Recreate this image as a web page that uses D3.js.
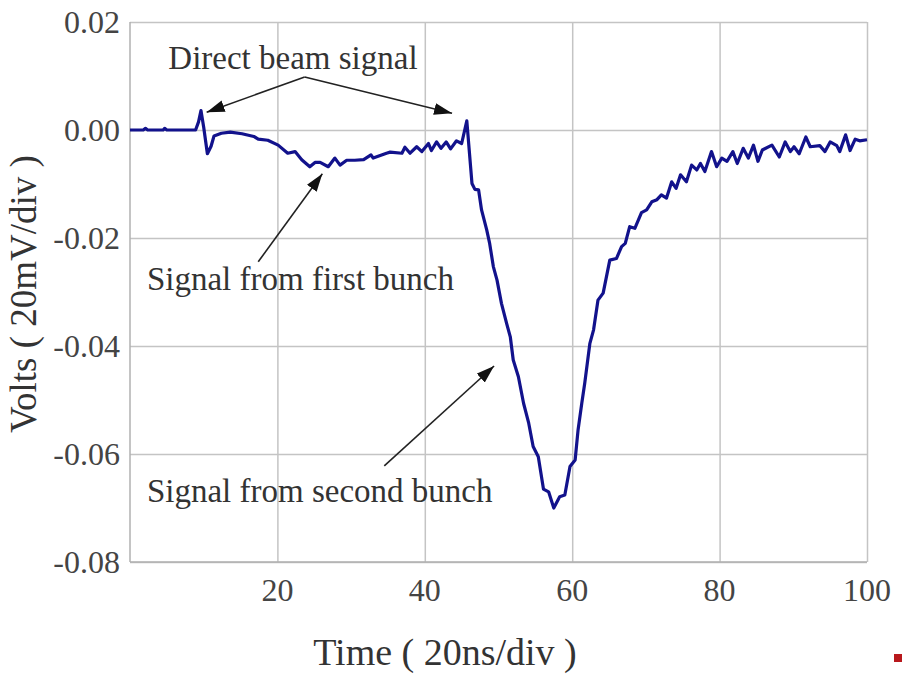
<!DOCTYPE html>
<html>
<head>
<meta charset="utf-8">
<script src="https://cdn.jsdelivr.net/npm/d3@7"></script>
<style>
  body { margin: 0; background: #fff; }
  svg text { font-family: "Liberation Serif", "DejaVu Serif", serif; }
</style>
</head>
<body>
<div id="chart"></div>
<script>
// time axis values (20ns/div units)
var times = [0, 1.8, 2.1, 2.4, 4.5, 4.7, 5.0, 8.9, 9.3, 9.63, 10.0, 10.5, 11.0, 11.4,
  12.4, 13.6, 15.2, 16.8, 17.4, 18.7, 20.1, 21.4, 22.4, 23.3, 24.4, 25.1, 25.8, 26.9,
  27.8, 28.5, 29.4, 30.5, 31.7, 32.7, 33.0, 34.8, 35.3, 36.9, 37.3, 38.0, 38.9, 39.6,
  40.5, 40.9, 41.6, 42.2, 42.9, 43.5, 44.3, 45.0, 45.7, 46.4, 46.8, 47.3, 47.7, 48.4,
  48.8, 49.3, 49.8, 50.4, 51.1, 51.6, 52.0, 52.7, 53.4, 54.1, 54.7, 55.4, 56.1, 56.8,
  57.5, 58.3, 59.0, 59.7, 60.4, 60.8, 61.3, 61.7, 62.4, 62.9, 63.5, 64.2, 65.1, 66.0,
  66.7, 67.2, 67.8, 68.5, 69.4, 70.1, 70.8, 71.5, 72.1, 72.8, 73.5, 74.1, 74.7, 75.5,
  76.2, 76.9, 77.4, 78.0, 78.9, 79.6, 80.3, 81.0, 81.8, 82.4, 83.2, 83.9, 84.6, 85.2,
  85.8, 87.1, 88.1, 88.9, 89.6, 90.1, 90.8, 91.7, 92.3, 93.6, 94.3, 95.0, 95.9, 96.3,
  97.1, 97.7, 98.4, 99.0, 100];

// measured volts at each time
var volts = [0, 0, 0.0003, 0, 0, 0.0003, 0, 0, 0.0015, 0.0036, 0.0005, -0.0044, -0.003, -0.0011,
  -0.0006, -0.0004, -0.0007, -0.0012, -0.0017, -0.0019, -0.0028, -0.0043, -0.004, -0.0055, -0.0068, -0.006, -0.006, -0.0068,
  -0.0052, -0.0065, -0.0056, -0.0056, -0.0055, -0.0046, -0.0052, -0.0043, -0.0041, -0.0043, -0.0032, -0.0043, -0.0031, -0.004,
  -0.0025, -0.0038, -0.0022, -0.0034, -0.0022, -0.0035, -0.002, -0.0025, 0.0017, -0.0099, -0.011, -0.0111, -0.0148, -0.0185,
  -0.021, -0.0253, -0.0278, -0.0321, -0.0358, -0.0383, -0.0426, -0.0457, -0.0506, -0.0543, -0.0586, -0.0605, -0.0665, -0.067,
  -0.07, -0.0679, -0.0676, -0.0623, -0.0611, -0.0555, -0.0506, -0.0469, -0.0395, -0.037, -0.0315, -0.0302, -0.0241, -0.0238,
  -0.0216, -0.021, -0.0179, -0.0182, -0.0153, -0.0148, -0.0133, -0.0129, -0.012, -0.0126, -0.0096, -0.0108, -0.0083, -0.0096,
  -0.0065, -0.0074, -0.0062, -0.0077, -0.004, -0.0068, -0.0052, -0.0058, -0.004, -0.0062, -0.0034, -0.0052, -0.0028, -0.0058,
  -0.0037, -0.0028, -0.005, -0.0022, -0.004, -0.0031, -0.0044, -0.0013, -0.0031, -0.0029, -0.004, -0.0022, -0.0029, -0.004,
  -0.0009, -0.0038, -0.0017, -0.002, -0.0018];

// tick values
var xTicks = [20, 40, 60, 80, 100];
var yTicks = [0.02, 0.00, -0.02, -0.04, -0.06, -0.08];

// annotation labels and their arrows (data units)
var noteTexts = ["Direct beam signal", "Signal from first bunch", "Signal from second bunch"];
var noteAnchors = [[5.2, 0.0113], [2.3, -0.0296], [2.3, -0.0689]];
var arrowTails = [[23.7, 0.0098], [23.7, 0.0098], [17.4, -0.0244], [34.5, -0.0622]];
var arrowTips = [[10.4, 0.0033], [43.7, 0.0031], [26.1, -0.0081], [49.4, -0.0437]];

var width = 903, height = 677;
var margin = {top: 22, right: 36, bottom: 115, left: 130};

var svg = d3.select("#chart").append("svg")
  .attr("width", width)
  .attr("height", height);

// scales
var x = d3.scaleLinear().domain([0, 100]).range([margin.left, width - margin.right]);
var y = d3.scaleLinear().domain([-0.08, 0.02]).range([height - margin.bottom, margin.top]);

var gridColor = "#c4c4c4";

// vertical grid lines
svg.append("g")
  .attr("transform", "translate(0," + (height - margin.bottom) + ")")
  .call(d3.axisBottom(x).tickValues(xTicks).tickSize(-(y.range()[0] - y.range()[1])).tickFormat(""))
  .call(function(g) { g.select(".domain").remove(); })
  .selectAll("line").attr("stroke", gridColor).attr("stroke-width", 1.5);

// horizontal grid lines
svg.append("g")
  .attr("transform", "translate(" + margin.left + ",0)")
  .call(d3.axisLeft(y).tickValues(yTicks).tickSize(-(x.range()[1] - x.range()[0])).tickFormat(""))
  .call(function(g) { g.select(".domain").remove(); })
  .selectAll("line").attr("stroke", gridColor).attr("stroke-width", 1.5);

// left and bottom axis lines
svg.append("line")
  .attr("x1", x(0)).attr("x2", x(0))
  .attr("y1", y(0.02)).attr("y2", y(-0.08))
  .attr("stroke", "#b0b0b0").attr("stroke-width", 1.5);
svg.append("line")
  .attr("x1", x(0)).attr("x2", x(100))
  .attr("y1", y(-0.08)).attr("y2", y(-0.08))
  .attr("stroke", "#b0b0b0").attr("stroke-width", 1.5);

// tick labels
svg.selectAll(".ylab")
  .data(yTicks)
  .enter().append("text")
  .attr("class", "ylab")
  .attr("x", x(0) - 10)
  .attr("y", function(d) { return y(d); })
  .attr("dy", "0.34em")
  .attr("text-anchor", "end")
  .attr("fill", "#444")
  .style("font-size", "32px")
  .text(function(d) { return d.toFixed(2); });

svg.selectAll(".xlab")
  .data(xTicks)
  .enter().append("text")
  .attr("class", "xlab")
  .attr("x", function(d) { return x(d); })
  .attr("y", y(-0.08) + 39)
  .attr("text-anchor", "middle")
  .attr("fill", "#444")
  .style("font-size", "32px")
  .text(function(d) { return d; });

// axis titles
svg.append("text")
  .attr("x", 445)
  .attr("y", 665)
  .attr("text-anchor", "middle")
  .attr("fill", "#333")
  .style("font-size", "38px")
  .text("Time ( 20ns/div )");

svg.append("text")
  .attr("transform", "translate(36,294) rotate(-90)")
  .attr("text-anchor", "middle")
  .attr("fill", "#333")
  .style("font-size", "37px")
  .text("Volts ( 20mV/div )");

// the signal trace
var line = d3.line()
  .x(function(d, i) { return x(times[i]); })
  .y(function(d) { return y(d); });

svg.append("path")
  .datum(volts)
  .attr("d", line)
  .attr("fill", "none")
  .attr("stroke", "#12128c")
  .attr("stroke-width", 3.2)
  .attr("stroke-linejoin", "round");

// arrow head marker
svg.append("defs").append("marker")
  .attr("id", "head")
  .attr("markerUnits", "userSpaceOnUse")
  .attr("viewBox", "0 0 18 12")
  .attr("refX", 18).attr("refY", 6)
  .attr("markerWidth", 18).attr("markerHeight", 12)
  .attr("orient", "auto")
  .append("path")
  .attr("d", "M0,0 L18,6 L0,12 Z")
  .attr("fill", "#111");

svg.selectAll(".arrow")
  .data(arrowTails)
  .enter().append("line")
  .attr("class", "arrow")
  .attr("x1", function(d) { return x(d[0]); })
  .attr("y1", function(d) { return y(d[1]); })
  .attr("x2", function(d, i) { return x(arrowTips[i][0]); })
  .attr("y2", function(d, i) { return y(arrowTips[i][1]); })
  .attr("stroke", "#222")
  .attr("stroke-width", 1.6)
  .attr("marker-end", "url(#head)");

// annotation text
svg.selectAll(".note")
  .data(noteTexts)
  .enter().append("text")
  .attr("class", "note")
  .attr("x", function(d, i) { return x(noteAnchors[i][0]); })
  .attr("y", function(d, i) { return y(noteAnchors[i][1]); })
  .attr("fill", "#333")
  .style("font-size", "33px")
  .text(function(d) { return d; });

// small red mark in the corner
svg.append("rect")
  .attr("x", 894).attr("y", 654)
  .attr("width", 8).attr("height", 8)
  .attr("fill", "#b8181c");
</script>
</body>
</html>
